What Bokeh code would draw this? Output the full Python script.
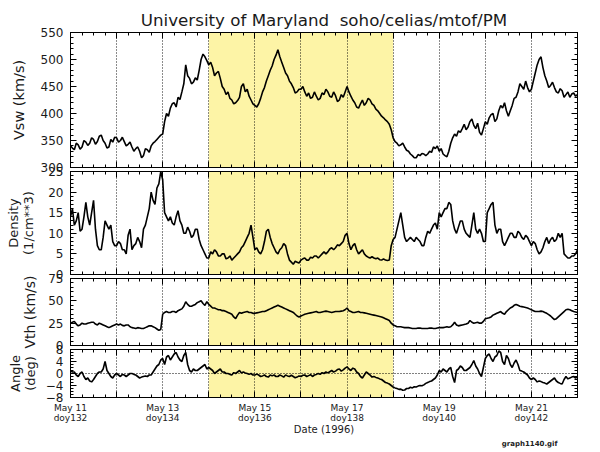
from bokeh.plotting import figure
from bokeh.layouts import column
from bokeh.models import Range1d, LinearAxis, FixedTicker, BoxAnnotation, Span, Title
from bokeh.embed import file_html
from bokeh.resources import INLINE

# ---------------- data (hourly samples, day-of-year 132.0 .. 143.0) ----------------
vsw = [340, 336, 333, 345, 342, 334, 338, 350, 347, 341, 345, 355, 352, 343, 348, 358, 360, 350, 345, 336, 338, 352, 347, 356,
       355, 347, 350, 356, 348, 340, 343, 347, 338, 330, 335, 338, 330, 318, 322, 335, 333, 328, 340, 345, 348, 352, 356, 360,
       362, 385, 400, 395, 410, 418, 420, 412, 430, 426, 440, 455, 490, 470, 465, 455, 458, 466, 462, 480, 500, 510, 505, 498,
       490, 495, 485, 470, 475, 478, 465, 450, 445, 435, 440, 428, 425, 418, 420, 424, 430, 450, 455, 440, 445, 432, 425, 418,
       415, 412, 418, 428, 440, 448, 460, 470, 480, 488, 500, 508, 518, 505, 495, 485, 475, 470, 460, 455, 448, 438, 440, 445,
       445, 450, 440, 432, 438, 428, 430, 440, 432, 425, 428, 438, 435, 445, 440, 432, 430, 440, 433, 422, 425, 435, 430, 440,
       450, 440, 432, 425, 420, 412, 410, 418, 425, 415, 420, 428, 425, 418, 415, 408, 405, 400, 395, 392, 388, 385, 380, 370,
       355, 348, 345, 340, 342, 345, 338, 332, 330, 325, 322, 318, 318, 324, 322, 326, 325, 322, 325, 330, 328, 338, 335, 340,
       330, 335, 325, 322, 320, 330, 345, 355, 362, 358, 368, 365, 372, 380, 370, 375, 385, 390, 378, 372, 382, 365, 360, 372,
       385, 380, 392, 398, 400, 385, 390, 405, 415, 410, 420, 405, 395, 405, 415, 428, 430, 440, 455, 450, 445, 460, 448, 440,
       445, 460, 475, 490, 500, 505, 485, 470, 460, 448, 452, 458, 448, 440, 438, 446, 442, 430, 435, 440, 430, 436, 438, 432,
       435]

density = [14, 16, 12, 13, 15, 10.5, 11, 14, 17.5, 14, 12, 15, 18, 11, 7, 6, 6, 9, 13, 12, 11, 12, 8, 7,
           7, 8, 7.5, 6, 6, 5, 9.5, 11, 6, 7, 7.5, 9, 8, 6.5, 11, 12, 14, 16, 20, 18, 17, 21, 22, 25,
           23, 15, 14, 13, 14, 12.5, 12, 14, 15.5, 13, 12, 10, 10, 11.5, 10.5, 9, 9.5, 11, 11, 8.5, 7, 6, 5, 4,
           4, 5.5, 5, 6, 5.5, 4.5, 4.5, 5, 5, 3.8, 4, 4.5, 3.5, 4, 4.5, 5, 5.5, 6.5, 7, 8, 9, 10, 12, 9,
           6, 6.5, 5.5, 5, 6, 8, 10.5, 11, 9, 7.5, 6.5, 5.5, 5, 6, 6.5, 7.5, 7, 5, 3.5, 3, 2.5, 3.2, 3, 2.8,
           3.5, 3.8, 4, 3.5, 3.5, 4.2, 4, 4.5, 4.5, 4, 4.5, 5, 5.5, 5, 5.5, 6.2, 6.5, 6, 6.5, 7.2, 7, 7.5, 8, 9.5,
           10, 7.5, 6, 7, 7.5, 6, 5, 5.5, 6, 5, 4.5, 4.2, 4, 4.3, 4, 3.8, 4, 3.6, 3.5, 3.8, 3.5, 3.4, 3.5, 7,
           8.5, 9, 11, 13, 15, 12, 9, 8, 8.5, 9, 8.5, 8, 9, 8.5, 8, 7, 7, 9, 10.5, 10, 11, 12, 12.5, 11,
           15, 14, 15, 16, 16, 17.5, 17, 13, 11, 10, 11.5, 13, 13, 11, 10, 9.5, 9, 12, 15, 11, 10, 11, 10, 8,
           8, 15, 16, 17, 17.5, 12, 10, 11, 11, 8, 7, 8, 9, 10, 10, 9, 9, 10.5, 10, 9, 8.5, 9.5, 9, 8,
           7, 8, 7.5, 6, 5, 5.5, 6.5, 8, 9, 7.5, 8.5, 9, 8, 8.5, 10, 9, 10, 5, 4.5, 4, 4, 4.5, 4.5, 5,
           6]

vth = [25, 26, 27, 24, 22, 23, 25, 24, 24, 25, 25.5, 26, 26, 24, 23, 25, 24, 23, 22, 21, 20, 21, 22, 23,
       24, 23, 24, 22.5, 22, 23, 23, 21, 20, 19.5, 19, 20, 19.5, 19, 19, 20, 21, 22, 22, 21, 20, 18.5, 17, 18,
       35, 37, 38, 37, 37, 38, 38, 37, 39, 40, 41, 44, 49, 46, 44, 44, 45, 46, 48, 49, 50, 47, 45, 49,
       46, 44, 42, 42, 41, 40, 40, 39, 39, 38, 37, 36, 35, 32, 30, 34, 37, 36, 37, 37.5, 38, 37, 37, 36,
       36, 36.5, 37, 37.5, 38, 38, 39, 40, 41, 42, 43, 44, 45, 44, 43, 42, 41, 40, 39, 38, 37, 35, 33, 32,
       33, 34, 35, 35.5, 36, 36.5, 37, 37.5, 38, 37, 37, 37.5, 38, 38.5, 38, 37.5, 37, 37.5, 38, 38, 38, 38.5, 39, 40,
       42, 39, 38, 37, 37, 37.5, 38, 37, 37, 36.5, 36, 35.5, 35, 34.5, 34, 33.5, 33, 32.5, 32, 31, 30, 29, 28, 25,
       23, 22, 21, 21, 21, 20.5, 20, 20, 20, 19.5, 19, 19, 19, 19.5, 19.5, 19, 19, 19, 19, 19.5, 19.5, 19, 19, 19.5,
       20, 20, 20, 20.5, 21, 20.5, 21, 23, 26, 23, 22, 22.5, 23, 23.5, 24, 25, 28, 26, 25, 25.5, 26, 25, 25, 27,
       30, 30.5, 31, 32, 34, 35, 36, 37, 38, 36, 35, 38, 40, 42, 43, 45, 46, 45, 44, 43.5, 43, 42.5, 42, 41,
       40, 39, 38, 38, 38, 38.5, 38, 37, 36, 34.5, 33, 31, 29, 30, 32, 34, 36, 38, 40, 40.5, 40, 39, 38, 37.5,
       37]

angle = [1, 0.5, 0.5, -0.5, -1, 0, 0.5, -1, -2, -1.5, -2.5, -2.8, -2, -1, 0, 0.5, 0.5, 1.5, 4, 1, 0, -1, -1.5, -0.5,
         0, -0.5, -1, -0.3, -0.5, -1, -0.5, 0, 0, -0.3, -0.5, -1, -1.5, -1.2, -1, -0.8, -1, -0.5, -0.5, 0.5, 1.5, 2.5, 3, 4.5,
         5, 3, 5.5, 6, 4.5, 5.5, 6.5, 7, 5.5, 4.5, 4, 6, 7, 3, 1, 0.5, 1.5, 1, 1, 1.5, 2, 2.5, 3, 1.5,
         2, 1.5, 1, 0, 0.5, 1, 1.5, 0.5, 0.5, 0, 0, -0.3, -0.5, 0.3, 0, 0.5, 1, 0.2, 0.5, 0.2, 0, -0.3, 0, -0.5,
         -0.5, -0.2, -0.5, -1, -0.8, -0.5, -1, -1.2, -0.5, -0.8, -0.5, -1, -1, -0.5, -0.8, -1.2, -0.5, -0.8, -1, -0.6, -1, -1.4, -1.2, -0.8,
         -1, -0.6, -0.5, -1, -0.7, -0.4, -1, -0.5, -0.3, 0, -0.3, 0.3, 0, 0.5, 0.2, 0.6, 1, 0.5, 0.8, 1.3, 1.5, 0.8, 1.2, 1.8,
         2.2, 1.5, 1, 1.8, 1.5, 0.5, 0, -1, -1.5, -0.5, 0.5, 0, -0.5, -1.2, -1, -1.3, -1.5, -1.8, -2, -2.5, -3, -3.2, -3.5, -4,
         -4.5, -4.8, -5, -5.3, -5.2, -5.6, -5.5, -5, -5, -4.6, -4.8, -4.4, -4.5, -4.2, -4, -4.1, -3.8, -3.3, -3, -2.7, -2.5, -2, -1.5, -0.5,
         1, 0.5, 1.5, 1, 0.5, 1.5, 2, -1, -3, 1, 1.5, 2.5, 2, 1, 1, 1.5, 2, 3, 4.3, 2.5, 1.5, 0, -1, 2,
         5, 6, 6.5, 5, 4, 5.5, 6, 7.5, 7, 4, 3, 6, 5, 3, 2, 3.5, 4.5, 3, 1, 0.8, 0.5, 0, -0.5, -1.5,
         -2, -1.5, -2, -2.8, -2.5, -2.7, -3, -3.2, -3.5, -3, -2.5, -2, -1.5, -2.5, -3, -3.3, -3.5, -2, -1, -1.8, -1.5, -1.2, -1, -1.5,
         -1]

day_ticks = list(range(132, 144))
day_labels = {132: "May 11\ndoy132", 134: "May 13\ndoy134", 136: "May 15\ndoy136",
              138: "May 17\ndoy138", 140: "May 19\ndoy140", 142: "May 21\ndoy142"}
shade_start, shade_end = 135, 139

vsw_ticks = [300, 350, 400, 450, 500, 550]
den_ticks = [0, 5, 10, 15, 20, 25]
vth_ticks = [0, 25, 50, 75]
ang_ticks = [-8, -4, 0, 4, 8]


def hourly_times(series):
    return [132 + h / 24 for h in range(len(series))]


TITLE = "University of Maryland \u00a0soho/celias/mtof/PM"
FONT = "DejaVu Sans"
TXT = "#1a1a1a"
PAD = 10          # canvas border beyond each frame on the inner sides
OVERLAP = 16      # canvases overlap so the frames sit 4 px apart
LW = 1.6

x_ticker = FixedTicker(ticks=day_ticks, minor_ticks=[132 + q / 4 for q in range(45)])


def style_axis(ax, ticker, labels=True, size="12px", standoff=7):
    ax.ticker = ticker
    ax.major_tick_in = 6
    ax.major_tick_out = 0
    ax.minor_tick_in = 3
    ax.minor_tick_out = 0
    ax.axis_line_color = "black"
    ax.major_tick_line_color = "black"
    ax.minor_tick_line_color = "black"
    ax.major_label_text_font = FONT
    ax.major_label_text_color = TXT
    if labels:
        ax.major_label_text_font_size = size
        ax.major_label_standoff = standoff
    else:
        ax.major_label_overrides = {t: "" for t in ticker.ticks}
        ax.major_label_text_font_size = "1px"
        ax.major_label_standoff = 0


def panel(h, yr, yticks, ystep, ylabel, top, bottom, lab_size="14px", lab_standoff=8,
          line_h=1.2, first=False, last=False):
    p = figure(frame_width=507, frame_height=h,
               x_range=Range1d(132, 143), y_range=Range1d(*yr),
               output_backend="svg", toolbar_location=None,
               min_border_left=70, min_border_right=23,
               min_border_top=top, min_border_bottom=bottom,
               title=(TITLE if first else None))
    p.outline_line_color = "black"
    p.background_fill_color = "white"
    p.border_fill_color = None
    if not first:
        p.styles = {"margin-top": "-%dpx" % OVERLAP}
    ymin = [yticks[0] + i * ystep for i in range(int(round((yticks[-1] - yticks[0]) / ystep)) + 1)]
    y_ticker = FixedTicker(ticks=yticks, minor_ticks=ymin)

    left_ax = p.left[0]
    bottom_ax = p.below[0]

    style_axis(left_ax, y_ticker, True, "12px", 7)
    left_ax.axis_label = ylabel
    left_ax.axis_label_text_font = FONT
    left_ax.axis_label_text_font_size = lab_size
    left_ax.axis_label_text_font_style = "normal"
    left_ax.axis_label_text_color = TXT
    left_ax.axis_label_standoff = lab_standoff
    left_ax.axis_label_text_line_height = line_h

    if last:
        style_axis(bottom_ax, x_ticker, True, "9px", 5)
        bottom_ax.major_label_overrides = {d: day_labels.get(d, "") for d in day_ticks}
        bottom_ax.major_label_text_line_height = 1.0
        bottom_ax.axis_label = "Date (1996)"
        bottom_ax.axis_label_text_font = FONT
        bottom_ax.axis_label_text_font_size = "10px"
        bottom_ax.axis_label_text_font_style = "normal"
        bottom_ax.axis_label_text_color = TXT
        bottom_ax.axis_label_standoff = -2
    else:
        style_axis(bottom_ax, x_ticker, False)

    ra = LinearAxis()
    style_axis(ra, y_ticker, False)
    p.add_layout(ra, "right")

    ta = LinearAxis()
    style_axis(ta, x_ticker, False)
    p.add_layout(ta, "above")

    p.ygrid.visible = False
    p.xgrid.ticker = FixedTicker(ticks=list(range(133, 143)))
    p.xgrid.grid_line_color = "black"
    p.xgrid.grid_line_dash = "1 2"
    p.xgrid.grid_line_alpha = 0.9

    box = BoxAnnotation(left=shade_start, right=shade_end, fill_color="#FDF4A6",
                        fill_alpha=1.0, line_color=None, level="image")
    p.add_layout(box)

    if first:
        p.title.align = "center"
        p.title.text_font = FONT
        p.title.text_font_size = "16.7px"
        p.title.text_font_style = "normal"
        p.title.text_color = TXT
        p.title.standoff = 6
    return p


p1 = panel(135, (300, 550), vsw_ticks, 10, "Vsw (km/s)", 32, PAD, "14.5px", 11, first=True)
p1.line(hourly_times(vsw), vsw, line_color="black", line_width=LW)

p2 = panel(103, (0, 25), den_ticks, 1, "Density\n(1/cm**3)", PAD, PAD, "13px", 9, line_h=1.0)
p2.line(hourly_times(density), density, line_color="black", line_width=LW)

p3 = panel(67, (0, 75), vth_ticks, 5, "Vth (km/s)", PAD, PAD, "14px", 7)
p3.line(hourly_times(vth), vth, line_color="black", line_width=LW)

p4 = panel(48, (-8, 8), ang_ticks, 1, "Angle\n(deg)", PAD, 55, "13px", 5, line_h=1.0, last=True)
p4.add_layout(Span(location=0, dimension="width", line_color="black",
                   line_dash="1 2", line_width=1, level="underlay"))
p4.line(hourly_times(angle), angle, line_color="black", line_width=LW)
p4.add_layout(Title(text="graph1140.gif", align="right", offset=20, standoff=0,
                    text_font=FONT, text_font_size="7px", text_font_style="bold",
                    text_color="#222"), "below")

layout = column(p1, p2, p3, p4, spacing=0)

open("out.html", "w").write(file_html(layout, INLINE))
